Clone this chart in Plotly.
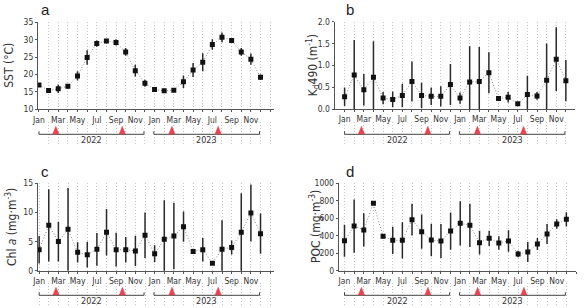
import plotly.graph_objects as go

# ---------------- data ----------------
month_idx = list(range(24))
tick_idx = [0, 2, 4, 6, 8, 10, 12, 14, 16, 18, 20, 22]
month_labels = ['Jan', 'Mar', 'May', 'Jul', 'Sep', 'Nov', 'Jan', 'Mar', 'May', 'Jul', 'Sep', 'Nov']
years = ['2022', '2023']
year_start = [0.0, 11.93]
year_end = [10.9, 22.9]
event_idx = [1.75, 8.65, 13.8, 18.6]

sst = [17.0, 15.4, 15.9, 16.6, 19.6, 24.9, 28.9, 29.6, 29.2, 26.5, 21.1, 17.5,
       15.7, 15.3, 15.5, 17.9, 21.3, 23.5, 28.6, 30.7, 29.8, 26.5, 24.4, 19.2]
sst_err = [0.4, 0.3, 1.2, 0.6, 1.3, 2.1, 0.9, 0.6, 0.9, 1.1, 1.7, 1.0,
           0.7, 0.3, 0.5, 1.8, 2.0, 2.6, 1.5, 1.4, 0.7, 1.1, 1.6, 0.8]
kd = [0.28, 0.78, 0.44, 0.73, 0.25, 0.22, 0.31, 0.63, 0.31, 0.29, 0.29, 0.56,
      0.25, 0.62, 0.63, 0.83, 0.24, 0.27, 0.12, 0.33, 0.30, 0.66, 1.14, 0.65]
kd_err = [0.21, 0.80, 0.36, 0.82, 0.14, 0.18, 0.27, 0.46, 0.29, 0.20, 0.23, 0.47,
          0.13, 0.82, 0.79, 0.47, 0.05, 0.12, 0.03, 0.43, 0.09, 0.84, 0.73, 0.47]
chl = [3.6, 7.8, 5.0, 7.1, 3.15, 2.75, 3.66, 6.6, 3.6, 3.6, 3.4, 6.1,
       2.9, 5.4, 5.95, 7.55, 3.3, 3.6, 1.3, 3.66, 4.0, 6.6, 9.9, 6.35]
chl_err = [2.35, 6.2, 3.4, 7.1, 1.75, 2.2, 2.8, 4.0, 2.9, 2.2, 2.6, 3.9,
           1.45, 6.7, 5.7, 2.6, 0.45, 2.0, 0.2, 5.0, 1.2, 6.7, 4.9, 3.45]
poc = [343, 511, 466, 771, 393, 347, 347, 584, 447, 351, 340, 454,
       542, 519, 321, 370, 317, 340, 191, 214, 305, 420, 534, 588]
poc_err = [182, 305, 190, 10, 25, 155, 208, 182, 195, 185, 195, 213,
           254, 247, 135, 86, 78, 124, 36, 115, 69, 115, 55, 82]

# ---------------- layout helpers ----------------
W, H = 584, 308
def fx(px):
    return min(max(px / W, 0), 1)
def fy(py):
    return min(max(1 - py / H, 0), 1)

FONT = "Liberation Sans Narrow, DejaVu Sans Condensed, Arial Narrow, sans-serif"
AXC = '#555555'
RED = '#e8434f'
GRID = '#c4c4c4'

panels = [
    dict(letter='a', y=sst, e=sst_err, title='SST (°C)',
         xd=(38, 274), xr=(-0.1, 24.4), yd=(22.3, 109.3), yr=(10, 35), dt=5, fmt='',
         tx=9, lx=45, ly=9, br=134.3),
    dict(letter='b', y=kd, e=kd_err, title='K<sub>d</sub>490 (m<sup>-1</sup>)',
         xd=(334.5, 575), xr=(-1.05, 23.95), yd=(21.7, 109), yr=(0, 2), dt=0.5, fmt='.1f',
         tx=313, lx=350, ly=9, br=134.3),
    dict(letter='c', y=chl, e=chl_err, title='Chl <i>a</i> (mg·m<sup>-3</sup>)',
         xd=(37.7, 274), xr=(-0.15, 24.4), yd=(183.3, 270.7), yr=(0, 15), dt=5, fmt='',
         tx=11, lx=45, ly=171, br=295.3),
    dict(letter='d', y=poc, e=poc_err, title='POC (mg·m<sup>-3</sup>)',
         xd=(338.7, 576), xr=(-0.6, 24.0), yd=(183.3, 270.7), yr=(0, 1000), dt=200, fmt='',
         tx=315, lx=350, ly=171, br=295.3),
]

fig = go.Figure()
annotations = []
layout = {}
PAD = 12

for i, p in enumerate(panels):
    n = i + 1
    xa = 'x' if n == 1 else f'x{n}'
    ya = 'y' if n == 1 else f'y{n}'
    yb_n = n + 4
    yb = f'y{yb_n}'

    layout['xaxis' if n == 1 else f'xaxis{n}'] = dict(
        domain=[fx(p['xd'][0]), fx(p['xd'][1])], range=list(p['xr']), anchor=ya,
        tickmode='array', tickvals=tick_idx, ticktext=month_labels,
        ticks='outside', ticklen=2, tickcolor=AXC, tickwidth=1,
        showline=True, linecolor=AXC, linewidth=1,
        showgrid=True, gridcolor=GRID, griddash='1px,2px', gridwidth=1,
        minor=dict(tickvals=list(range(25)), showgrid=True, gridcolor=GRID,
                   griddash='1px,2px', gridwidth=1, ticks='outside', ticklen=2,
                   tickcolor=AXC, tickwidth=1),
        zeroline=False, tickfont=dict(family=FONT, size=8.5, color='#333'),
        automargin=False, fixedrange=True,
    )
    layout['yaxis' if n == 1 else f'yaxis{n}'] = dict(
        domain=[fy(p['yd'][1]), fy(p['yd'][0])], range=list(p['yr']), anchor=xa,
        dtick=p['dt'], tick0=p['yr'][0], tickformat=p['fmt'],
        ticks='outside', ticklen=2, tickcolor=AXC, tickwidth=1,
        showline=True, linecolor=AXC, linewidth=1, showgrid=False, zeroline=False,
        tickfont=dict(family=FONT, size=8.5, color='#333'), automargin=False,
    )
    # invisible axis for year brackets & event triangles (values = pixel rows)
    layout[f'yaxis{yb_n}'] = dict(
        domain=[fy(p['br'] + PAD), fy(p['br'] - PAD)], range=[p['br'] + PAD, p['br'] - PAD],
        anchor=xa, visible=False, showgrid=False, zeroline=False, automargin=False,
    )

    # dotted connecting line
    fig.add_trace(go.Scatter(x=month_idx, y=p['y'], mode='lines', xaxis=xa, yaxis=ya,
                             line=dict(color='#8a8a8a', width=1, dash='1px,2px'),
                             hoverinfo='skip', showlegend=False))
    # points with error bars
    fig.add_trace(go.Scatter(x=month_idx, y=p['y'], mode='markers', xaxis=xa, yaxis=ya,
                             marker=dict(symbol='square', size=5, color='#111'),
                             error_y=dict(type='data', array=p['e'], visible=True,
                                          color='#2a2a2a', thickness=1.5, width=0),
                             showlegend=False))

    # year brackets
    base = p['br']
    for k, yr in enumerate(years):
        x0, x1 = year_start[k], year_end[k]
        fig.add_trace(go.Scatter(x=[x0, x0, x1, x1], y=[base - 3, base, base, base - 3],
                                 mode='lines', xaxis=xa, yaxis=yb,
                                 line=dict(color='#444', width=1), hoverinfo='skip',
                                 showlegend=False))
        annotations.append(dict(x=(x0 + x1) / 2, y=fy(base + 5.5), xref=xa, yref='paper',
                                text=yr, showarrow=False, xanchor='center', yanchor='middle',
                                font=dict(family=FONT, size=9, color='#333')))
    # event triangles (filled polygons)
    hw = 0.32
    tx, ty = [], []
    for ev in event_idx:
        tx += [ev - hw, ev + hw, ev, ev - hw, None]
        ty += [base - 0.3, base - 0.3, base - 8, base - 0.3, None]
    fig.add_trace(go.Scatter(x=tx, y=ty, mode='lines', fill='toself', fillcolor=RED,
                             line=dict(color=RED, width=0.5), xaxis=xa, yaxis=yb,
                             hoverinfo='skip', showlegend=False))

    # panel letter
    annotations.append(dict(x=fx(p['lx']), y=fy(p['ly']), xref='paper', yref='paper',
                            text=p['letter'], showarrow=False, xanchor='center',
                            yanchor='middle', font=dict(family='Liberation Sans, Arial, sans-serif',
                                                        size=15, color='#222')))
    # y title
    annotations.append(dict(x=fx(p['tx']), y=fy((p['yd'][0] + p['yd'][1]) / 2),
                            xref='paper', yref='paper', text=p['title'], textangle=-90,
                            showarrow=False, xanchor='center', yanchor='middle',
                            font=dict(family=FONT, size=12, color='#333')))

fig.update_layout(**layout)
fig.update_layout(template='none', width=W, height=H, margin=dict(l=0, r=0, t=0, b=0),
                  paper_bgcolor='white', plot_bgcolor='white',
                  annotations=annotations, showlegend=False)

fig.write_html("out.html", config={'displayModeBar': False},
               post_script="document.body.style.margin='0px';document.body.style.padding='0px';")
